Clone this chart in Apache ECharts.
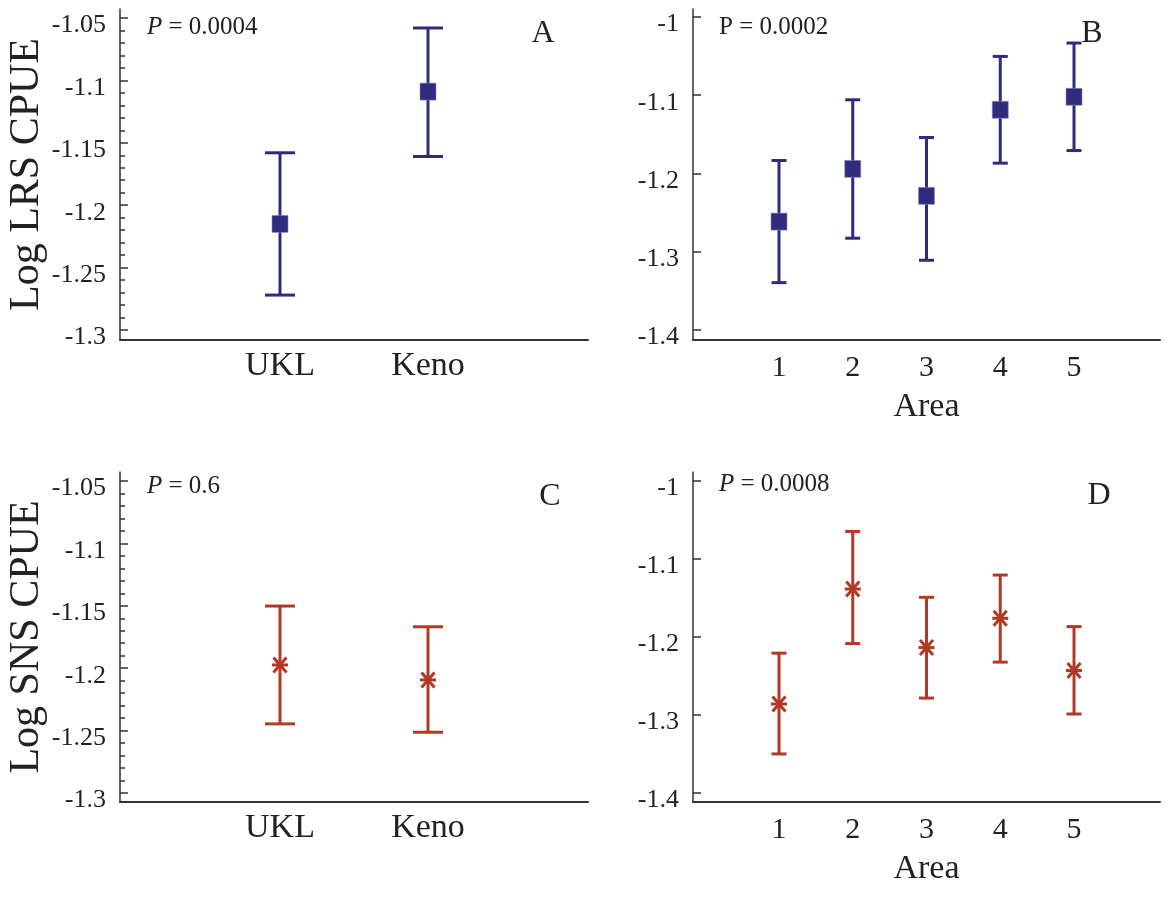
<!DOCTYPE html>
<html>
<head>
<meta charset="utf-8">
<script src="https://cdn.jsdelivr.net/npm/echarts@6/dist/echarts.min.js"></script>
<style>
html,body{margin:0;padding:0;background:#fff;}
#chart{width:1168px;height:899px;}
</style>
</head>
<body>
<div id="chart"></div>
<script>
// ---- data ----
const sites = ['UKL', 'Keno'];
const areas = ['1', '2', '3', '4', '5'];

const lrsSiteMean  = [-1.215, -1.109];
const lrsSiteLower = [-1.272, -1.161];
const lrsSiteUpper = [-1.158, -1.058];

const lrsAreaMean  = [-1.2615, -1.1941, -1.2286, -1.1186, -1.1020];
const lrsAreaLower = [-1.3395, -1.2827, -1.3109, -1.1868, -1.1707];
const lrsAreaUpper = [-1.1834, -1.1058, -1.1540, -1.0504, -1.0333];

const snsSiteMean  = [-1.1974, -1.2094];
const snsSiteLower = [-1.2446, -1.2513];
const snsSiteUpper = [-1.1502, -1.1668];

const snsAreaMean  = [-1.2859, -1.1385, -1.2135, -1.1760, -1.2430];
const snsAreaLower = [-1.3499, -1.2084, -1.2783, -1.2322, -1.2987];
const snsAreaUpper = [-1.2207, -1.0647, -1.1491, -1.1206, -1.1867];

const siteTicks = [-1.3, -1.25, -1.2, -1.15, -1.1, -1.05];
const siteMinorTicks = [-1.29,-1.28,-1.27,-1.26,-1.24,-1.23,-1.22,-1.21,-1.19,-1.18,-1.17,-1.16,-1.14,-1.13,-1.12,-1.11,-1.09,-1.08,-1.07,-1.06];
const areaTicks = [-1.4, -1.3, -1.2, -1.1, -1];

const pLabels = ['0.0004', '0.0002', '0.6', '0.0008'];
const panelLetters = ['A', 'B', 'C', 'D'];

// ---- styling ----
const FONT = '"Liberation Serif", "Times New Roman", serif';
const BLUE = '#2f2b7d';
const RED = '#b03a25';
const AX = '#333333';
const TXT = '#222222';

function rows(means, lows, ups) {
  return means.map((m, i) => [i + 1, m, lows[i], ups[i]]);
}

function makeRender(kind, color, capHalf) {
  return function (params, api) {
    const x = api.value(0), m = api.value(1), lo = api.value(2), hi = api.value(3);
    const pm = api.coord([x, m]);
    const pl = api.coord([x, lo]);
    const ph = api.coord([x, hi]);
    const ls = { stroke: color, lineWidth: 3, fill: null };
    const cx = pm[0], cy = pm[1];
    const ch = [
      { type: 'line', shape: { x1: cx, y1: ph[1], x2: cx, y2: pl[1] }, style: ls },
      { type: 'line', shape: { x1: cx - capHalf, y1: ph[1], x2: cx + capHalf, y2: ph[1] }, style: ls },
      { type: 'line', shape: { x1: cx - capHalf, y1: pl[1], x2: cx + capHalf, y2: pl[1] }, style: ls }
    ];
    if (kind === 'square') {
      ch.push({ type: 'rect', shape: { x: cx - 8, y: cy - 8.5, width: 16, height: 17 }, style: { fill: color, stroke: '#8e8cc0', lineWidth: 0.6 } });
    } else {
      const s2 = { stroke: color, lineWidth: 3 };
      ch.push({ type: 'line', shape: { x1: cx - 8, y1: cy, x2: cx + 8, y2: cy }, style: s2 });
      ch.push({ type: 'line', shape: { x1: cx - 6.5, y1: cy - 7.5, x2: cx + 6.5, y2: cy + 7.5 }, style: s2 });
      ch.push({ type: 'line', shape: { x1: cx - 6.5, y1: cy + 7.5, x2: cx + 6.5, y2: cy - 7.5 }, style: s2 });
    }
    return { type: 'group', children: ch };
  };
}

const grids = [
  { left: 120, top: 9, width: 468, height: 331 },
  { left: 693, top: 9, width: 467, height: 331 },
  { left: 120, top: 472, width: 468, height: 330 },
  { left: 693, top: 472, width: 467, height: 330 }
];

function xAxisDef(gi, cats, min, max, fontSize, margin, withName) {
  return {
    type: 'value', gridIndex: gi, min: min, max: max, position: 'bottom',
    splitLine: { show: false },
    axisLine: { show: true, onZero: false, lineStyle: { color: AX, width: 2 } },
    axisTick: { show: false },
    axisLabel: {
      customValues: cats.map((c, i) => i + 1),
      formatter: v => cats[Math.round(v) - 1],
      fontFamily: FONT, fontSize: fontSize, color: TXT, margin: margin
    },
    name: withName ? 'Area' : '',
    nameLocation: 'middle', nameGap: 50,
    nameTextStyle: { fontFamily: FONT, fontSize: 34, color: TXT }
  };
}

function yAxisDef(gi, min, max, ticks, name) {
  return {
    type: 'value', gridIndex: gi, min: min, max: max, position: 'left', offset: 0,
    splitLine: { show: false },
    axisLine: { show: true, onZero: false, lineStyle: { color: AX, width: 1.5 } },
    axisTick: { show: true, inside: true, length: 8, customValues: ticks, lineStyle: { color: AX, width: 1.5 } },
    axisLabel: {
      customValues: ticks,
      formatter: v => String(Math.round(v * 100) / 100),
      fontFamily: FONT, fontSize: 26, color: TXT, margin: 14,
      verticalAlign: 'top', lineHeight: 15
    },
    name: name, nameLocation: 'middle', nameGap: 66, nameRotate: 90,
    nameTextStyle: { fontFamily: FONT, fontSize: 42, color: TXT }
  };
}

function yMinorDef(gi, min, max, ticks) {
  return {
    type: 'value', gridIndex: gi, min: min, max: max, position: 'left', offset: 0,
    splitLine: { show: false },
    axisLine: { show: false, onZero: false },
    axisTick: { show: true, inside: true, length: 5, customValues: ticks, lineStyle: { color: AX, width: 1.5 } },
    axisLabel: { show: false }
  };
}

const siteMin = -1.308, siteMax = -1.0428;
const areaMin = -1.4128, areaMax = -0.9898;
const siteMinC = -1.3072, siteMaxC = -1.0428;
const areaMinD = -1.4115, areaMaxD = -0.9885;

function pText(x, y, val, italic) {
  return {
    type: 'text', x: x, y: y,
    style: {
      text: (italic ? '{i|P}' : 'P') + ' = ' + val,
      font: '25px ' + FONT, fill: TXT,
      textVerticalAlign: 'middle', verticalAlign: 'middle',
      rich: { i: { fontStyle: 'italic', fontFamily: FONT, fontSize: 25, fill: TXT, color: TXT } }
    }
  };
}
function letterText(x, y, t) {
  return {
    type: 'text', x: x, y: y,
    style: { text: t, font: '32px ' + FONT, fill: TXT, align: 'center', textAlign: 'center', verticalAlign: 'middle', textVerticalAlign: 'middle' }
  };
}

const option = {
  backgroundColor: '#ffffff',
  animation: false,
  grid: grids,
  xAxis: [
    xAxisDef(0, sites, -0.081, 3.081, 34, 9, false),
    xAxisDef(1, areas, -0.166, 6.166, 30, 13, true),
    xAxisDef(2, sites, -0.081, 3.081, 34, 9, false),
    xAxisDef(3, areas, -0.166, 6.166, 30, 13, true)
  ],
  yAxis: [
    yAxisDef(0, siteMin, siteMax, siteTicks, 'Log LRS CPUE'),
    yAxisDef(1, areaMin, areaMax, areaTicks, ''),
    yAxisDef(2, siteMinC, siteMaxC, siteTicks, 'Log SNS CPUE'),
    yAxisDef(3, areaMinD, areaMaxD, areaTicks, ''),
    yMinorDef(0, siteMin, siteMax, siteMinorTicks),
    yMinorDef(2, siteMinC, siteMaxC, siteMinorTicks)
  ],
  series: [
    { type: 'custom', xAxisIndex: 0, yAxisIndex: 0, clip: false, renderItem: makeRender('square', BLUE, 15),
      encode: { x: 0, y: [1, 2, 3] }, data: rows(lrsSiteMean, lrsSiteLower, lrsSiteUpper) },
    { type: 'custom', xAxisIndex: 1, yAxisIndex: 1, clip: false, renderItem: makeRender('square', BLUE, 7.5),
      encode: { x: 0, y: [1, 2, 3] }, data: rows(lrsAreaMean, lrsAreaLower, lrsAreaUpper) },
    { type: 'custom', xAxisIndex: 2, yAxisIndex: 2, clip: false, renderItem: makeRender('star', RED, 15),
      encode: { x: 0, y: [1, 2, 3] }, data: rows(snsSiteMean, snsSiteLower, snsSiteUpper) },
    { type: 'custom', xAxisIndex: 3, yAxisIndex: 3, clip: false, renderItem: makeRender('star', RED, 7.5),
      encode: { x: 0, y: [1, 2, 3] }, data: rows(snsAreaMean, snsAreaLower, snsAreaUpper) }
  ],
  graphic: [
    pText(147, 27, pLabels[0], true),
    pText(719, 27, pLabels[1], false),
    pText(147, 486, pLabels[2], true),
    pText(719, 484, pLabels[3], true),
    letterText(543, 34, panelLetters[0]),
    letterText(1092, 34, panelLetters[1]),
    letterText(550, 497, panelLetters[2]),
    letterText(1099, 496, panelLetters[3])
  ]
};

const chart = echarts.init(document.getElementById('chart'), null, { renderer: 'canvas' });
chart.setOption(option);
</script>
</body>
</html>
